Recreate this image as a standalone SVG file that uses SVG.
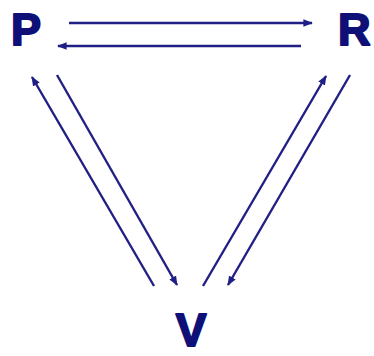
<svg xmlns="http://www.w3.org/2000/svg" width="374" height="356" viewBox="0 0 374 356">
<style>
.lbl{font-family:"Liberation Sans",Arial,sans-serif;font-weight:bold;fill:#0f0f78;stroke:#0f0f78;stroke-width:2;stroke-linejoin:round}
.c line{stroke:#1f1f85;stroke-width:2.4;fill:none}
</style>
<defs>
<marker id="ah" viewBox="0 0 10 8" refX="9" refY="4" markerWidth="4" markerHeight="3.4" orient="auto" markerUnits="strokeWidth">
<path d="M0,0 L10,4 L0,8 Z" fill="#1f1f85"/>
</marker>
</defs>
<rect width="374" height="356" fill="#ffffff"/>
<g id="P"><text class="lbl" x="11" y="45" font-size="45">P</text></g>
<g id="R"><text class="lbl" x="338" y="45" font-size="45">R</text></g>
<g id="V"><text class="lbl" x="191" y="346" font-size="46" text-anchor="middle">V</text></g>
<g class="c" id="connectors">
<line x1="69" y1="23" x2="312" y2="23" marker-end="url(#ah)"/>
<line x1="301" y1="46" x2="58" y2="46" marker-end="url(#ah)"/>
<line x1="154" y1="286" x2="32" y2="77" marker-end="url(#ah)"/>
<line x1="57" y1="75" x2="177" y2="285" marker-end="url(#ah)"/>
<line x1="203" y1="286" x2="326" y2="76" marker-end="url(#ah)"/>
<line x1="350" y1="75" x2="228" y2="285" marker-end="url(#ah)"/>
</g>
</svg>
